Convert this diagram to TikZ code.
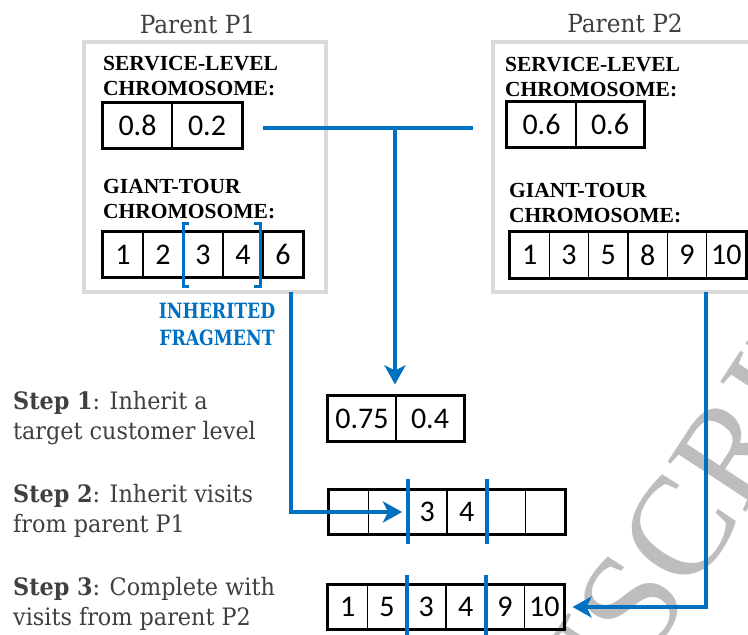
\documentclass[tikz,border=0pt]{standalone}
\usepackage{fontspec}
\setmainfont{Liberation Serif}
\newfontfamily\cambfont[FakeStretch=0.93]{DejaVu Serif}
\newfontfamily\parfont[FakeStretch=0.93]{DejaVu Serif}
\newfontfamily\fragfont[FakeStretch=0.82]{DejaVu Serif}
\newfontfamily\numfont{Carlito}
\usetikzlibrary{arrows.meta}
\definecolor{myblue}{HTML}{0070C0}
\definecolor{framegray}{HTML}{D9D9D9}
\definecolor{txtgray}{HTML}{404040}
\definecolor{wmgray}{HTML}{BDBDBD}
\begin{document}
\begin{tikzpicture}[x=1pt,y=-1pt,
  cell/.style={draw=black, line width=1.2pt, rectangle, inner sep=0pt, minimum height=45pt, font=\numfont\fontsize{30}{30}\selectfont},
  outerbox/.style={draw=black, line width=3.2pt},
  frame/.style={draw=framegray, line width=3.2pt, rectangle, inner sep=0pt},
  lbl/.style={anchor=base west, inner sep=0pt, font=\bfseries\fontsize{21.5}{24}\selectfont},
  steptext/.style={anchor=base west, inner sep=0pt, text=txtgray, font=\cambfont\fontsize{24}{30}\selectfont},
  parent/.style={anchor=base, inner sep=0pt, text=txtgray, font=\parfont\fontsize{25}{30}\selectfont},
  fragtext/.style={anchor=base, inner sep=0pt, text=myblue, font=\fragfont\bfseries\fontsize{21}{26}\selectfont},
  conn/.style={draw=myblue, line width=3.6pt},
  arr/.style={conn, -{Stealth[length=19pt,width=21pt,inset=5pt]}},
  wm/.style={rotate=56.7, inner sep=0pt, text=wmgray, font=\fontsize{142}{142}\selectfont}
  ]
\useasboundingbox (0,0) rectangle (748,635);
\clip (0,0) rectangle (748,635);
\fill[white] (0,0) rectangle (748,635);

% watermark
\node[wm, anchor=base west] (wmb) at (648,662) {SCRIPT};
\node[wm, anchor=base east] (wma) at (648,662) {MANU};

% parent frames
\node[frame, minimum width=242pt, minimum height=250pt] (p1frame) at (205,167) {};
\node[frame, minimum width=270pt, minimum height=250pt] (p2frame) at (628,167) {};
\node[parent] (p1title) at (197.5,33) {Parent P1};
\node[parent] (p2title) at (625,32) {Parent P2};

% chromosome labels
\node[lbl] (l1a) at (103,70) {SERVICE-LEVEL};
\node[lbl] (l1b) at (103,95) {CHROMOSOME:};
\node[lbl] (l1c) at (103,193) {GIANT-TOUR};
\node[lbl] (l1d) at (103,218) {CHROMOSOME:};
\node[lbl] (l2a) at (505,71) {SERVICE-LEVEL};
\node[lbl] (l2b) at (505,96) {CHROMOSOME:};
\node[lbl] (l2c) at (509,197) {GIANT-TOUR};
\node[lbl] (l2d) at (509,222) {CHROMOSOME:};

% P1 chromosomes
\node[cell, minimum width=69pt] (s1a) at (137.5,125.5) {0.8};
\node[cell, minimum width=70pt] (s1b) at (207,125.5) {0.2};
\draw[outerbox] (s1a.north west) rectangle (s1b.south east);
\node[cell, minimum width=40pt] (t1a) at (123,254.5) {1};
\node[cell, minimum width=40pt] (t1b) at (163,254.5) {2};
\node[cell, minimum width=40pt] (t1c) at (203,254.5) {3};
\node[cell, minimum width=40pt] (t1d) at (243,254.5) {4};
\node[cell, minimum width=40pt] (t1e) at (283,254.5) {6};
\draw[outerbox] (t1a.north west) rectangle (t1e.south east);
\draw[conn, line width=3pt] (189,223) -- (183,223) -- (183,286) -- (189,286);
\draw[conn, line width=3pt] (254,223) -- (260,223) -- (260,286) -- (254,286);

% P2 chromosomes
\node[cell, minimum width=69pt] (s2a) at (541.5,124.5) {0.6};
\node[cell, minimum width=68pt] (s2b) at (610,124.5) {0.6};
\draw[outerbox] (s2a.north west) rectangle (s2b.south east);
\node[cell, minimum width=39.33pt, minimum height=46pt] (t2a) at (529.7,255) {1};
\node[cell, minimum width=39.33pt, minimum height=46pt] (t2b) at (569,255) {3};
\node[cell, minimum width=39.33pt, minimum height=46pt] (t2c) at (608.3,255) {5};
\node[cell, minimum width=39.33pt, minimum height=46pt] (t2d) at (647.7,255) {8};
\node[cell, minimum width=39.33pt, minimum height=46pt] (t2e) at (687,255) {9};
\node[cell, minimum width=39.33pt, minimum height=46pt] (t2f) at (726.3,255) {10};
\draw[outerbox] (t2a.north west) rectangle (t2f.south east);

% inherited fragment label
\node[fragtext] (fr1) at (217,318) {INHERITED};
\node[fragtext] (fr2) at (217,345) {FRAGMENT};

% step texts
\node[steptext] (st1a) at (13,409) {\textbf{Step 1}: Inherit a};
\node[steptext] (st1b) at (13,439) {target customer level};
\node[steptext] (st2a) at (13,502) {\textbf{Step 2}: Inherit visits};
\node[steptext] (st2b) at (13,532) {from parent P1};
\node[steptext] (st3a) at (13,595) {\textbf{Step 3}: Complete with};
\node[steptext] (st3b) at (13,625) {visits from parent P2};

% child 1
\node[cell, minimum width=68pt] (c1a) at (362,418.5) {0.75};
\node[cell, minimum width=68pt] (c1b) at (430,418.5) {0.4};
\draw[outerbox] (c1a.north west) rectangle (c1b.south east);

% child 2
\node[cell, minimum width=39.33pt, minimum height=44pt] (c2a) at (348.7,512) {};
\node[cell, minimum width=39.33pt, minimum height=44pt] (c2b) at (388,512) {};
\node[cell, minimum width=39.33pt, minimum height=44pt] (c2c) at (427.3,512) {3};
\node[cell, minimum width=39.33pt, minimum height=44pt] (c2d) at (466.7,512) {4};
\node[cell, minimum width=39.33pt, minimum height=44pt] (c2e) at (506,512) {};
\node[cell, minimum width=39.33pt, minimum height=44pt] (c2f) at (545.3,512) {};
\draw[outerbox] (c2a.north west) rectangle (c2f.south east);
\draw[conn] ([yshift=10pt]c2b.north east) -- ([yshift=-9pt]c2b.south east);
\draw[conn] ([yshift=10pt]c2d.north east) -- ([yshift=-9pt]c2d.south east);

% child 3
\node[cell, minimum width=39.33pt, minimum height=44pt] (c3a) at (347.7,607) {1};
\node[cell, minimum width=39.33pt, minimum height=44pt] (c3b) at (387,607) {5};
\node[cell, minimum width=39.33pt, minimum height=44pt] (c3c) at (426.3,607) {3};
\node[cell, minimum width=39.33pt, minimum height=44pt] (c3d) at (465.7,607) {4};
\node[cell, minimum width=39.33pt, minimum height=44pt] (c3e) at (505,607) {9};
\node[cell, minimum width=39.33pt, minimum height=44pt] (c3f) at (544.3,607) {10};
\draw[outerbox] (c3a.north west) rectangle (c3f.south east);
\draw[conn] ([yshift=9pt]c3b.north east) -- ([yshift=-20pt]c3b.south east);
\draw[conn] ([yshift=9pt]c3d.north east) -- ([yshift=-20pt]c3d.south east);

% connectors
\coordinate (jl) at (263,128);
\coordinate (jr) at (473,128);
\coordinate (jt) at (395,128);
\draw[conn] (jl) -- (jr);
\draw[arr] (jt) -- ([yshift=11pt]c1a.north east -| jt);
\coordinate (f1) at (291,292);
\draw[arr] (f1) |- ([xshift=-5pt]c2c.west);
\coordinate (f2) at (706,292);
\draw[arr] (f2) |- ([xshift=8pt]c3f.east);
\end{tikzpicture}
\end{document}
